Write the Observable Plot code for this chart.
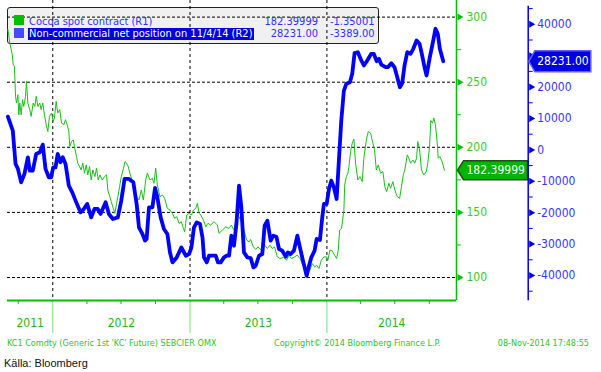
<!DOCTYPE html>
<html><head><meta charset="utf-8">
<script src="https://cdn.jsdelivr.net/npm/d3@7"></script>
<script src="https://cdn.jsdelivr.net/npm/@observablehq/plot@0.6"></script>
<style>
body{margin:0;background:#fff;}
#wrap{position:relative;width:601px;height:372px;overflow:hidden;background:#fff;font-family:"DejaVu Sans Condensed","DejaVu Sans",sans-serif;}
#wrap svg{position:absolute;left:0;top:0;}
.abs{position:absolute;white-space:nowrap;}
#legbox{left:7px;top:7px;width:370px;height:35px;background:#f0f0f0;border:1px solid #222;border-radius:3px;z-index:0;}
.lg{font-size:11px;line-height:12px;height:12px;color:#3030ff;z-index:3;}
.sq{width:10px;height:10px;z-index:3;}
.ft{font-size:9px;line-height:10px;color:#2fbf2f;z-index:3;}
</style></head>
<body>
<div id="wrap">
  <div id="legbox" class="abs"></div>
  <div class="abs sq" style="left:14px;top:15px;background:#00c000"></div>
  <div class="abs lg" id="l1" style="left:29px;top:16px"></div>
  <div class="abs lg" id="l1a" style="left:240px;top:16px;width:78px;text-align:right"></div>
  <div class="abs lg" id="l1b" style="left:330px;top:16px"></div>
  <div class="abs sq" style="left:14px;top:28px;background:#4848ff"></div>
  <div class="abs lg" id="l2" style="left:28px;top:28px;background:#0000e0;color:#fff;padding:0 1px"></div>
  <div class="abs lg" id="l2a" style="left:240px;top:28px;width:78px;text-align:right"></div>
  <div class="abs lg" id="l2b" style="left:330px;top:28px"></div>
  <div class="abs ft" id="f1" style="left:7px;top:338px"></div>
  <div class="abs ft" id="f2" style="left:274px;top:338px"></div>
  <div class="abs ft" id="f3" style="right:12px;top:338px"></div>
  <div class="abs" id="src" style="left:4px;top:357px;font-family:'Liberation Sans Narrow','Liberation Sans',sans-serif;font-size:11px;line-height:13px;color:#111"></div>
</div>
<script>
// ---- data (decimal years) ----
const greenT = [2011.672,2011.686,2011.704,2011.711,2011.720,2011.728,2011.735,2011.745,2011.752,2011.759,
2011.769,2011.779,2011.788,2011.801,2011.808,2011.818,2011.832,2011.842,2011.857,2011.869,
2011.879,2011.891,2011.905,2011.915,2011.927,2011.939,2011.952,2011.964,2011.976,2011.991,
2012.003,2012.012,2012.025,2012.036,2012.051,2012.064,2012.080,2012.093,2012.105,2012.117,
2012.124,2012.137,2012.149,2012.158,2012.173,2012.182,2012.195,2012.207,2012.219,2012.231,
2012.244,2012.255,2012.268,2012.280,2012.292,2012.307,2012.319,2012.331,2012.343,2012.361,
2012.377,2012.392,2012.401,2012.416,2012.426,2012.441,2012.453,2012.465,2012.474,2012.487,
2012.499,2012.514,2012.526,2012.538,2012.550,2012.562,2012.591,2012.611,2012.628,2012.645,
2012.660,2012.677,2012.689,2012.708,2012.726,2012.737,2012.750,2012.762,2012.781,2012.799,
2012.815,2012.835,2012.854,2012.872,2012.888,2012.903,2012.920,2012.937,2012.952,2012.961,
2012.976,2012.993,2013.010,2013.025,2013.042,2013.054,2013.066,2013.078,2013.098,2013.115,
2013.131,2013.151,2013.175,2013.200,2013.212,2013.236,2013.261,2013.285,2013.302,2013.321,
2013.341,2013.358,2013.375,2013.394,2013.414,2013.431,2013.443,2013.463,2013.480,2013.496,
2013.521,2013.545,2013.565,2013.584,2013.601,2013.618,2013.638,2013.657,2013.682,2013.706,
2013.723,2013.740,2013.764,2013.784,2013.803,2013.820,2013.837,2013.857,2013.876,2013.893,
2013.910,2013.925,2013.942,2013.959,2013.978,2013.998,2014.007,2014.022,2014.039,2014.056,
2014.071,2014.083,2014.093,2014.107,2014.124,2014.130,2014.142,2014.153,2014.161,2014.173,
2014.185,2014.197,2014.209,2014.226,2014.241,2014.258,2014.270,2014.288,2014.302,2014.319,
2014.336,2014.348,2014.361,2014.375,2014.392,2014.409,2014.423,2014.436,2014.453,2014.465,
2014.482,2014.496,2014.514,2014.531,2014.545,2014.558,2014.569,2014.587,2014.599,2014.611,
2014.628,2014.642,2014.655,2014.664,2014.677,2014.691,2014.708,2014.726,2014.737,2014.750,
2014.759,2014.772,2014.781,2014.793,2014.806,2014.813,2014.825,2014.842,2014.859];
const greenV = [290.5,280.2,271.2,263.5,262.2,239.1,234,240.4,225,234,
225,236.6,231.4,239.1,250.7,234,228.9,223.7,234,231.4,
239.1,231.4,234,228.9,234,225,217.3,212.1,223.7,226.3,
219.9,222.5,235.3,226.3,228.9,218.6,217.3,221.2,217.3,212.1,
200.6,204.4,205.7,200.6,192.9,187.8,185.2,182.6,187.8,180.1,
186.5,178.8,185.2,174.9,182.6,177.5,183.9,174.9,178.8,174.9,
177.5,178.8,167.2,162.1,158.2,153.1,149.3,157,162.1,169.8,
177.5,183.2,189,187.8,185.2,180.1,169.8,162.1,159.5,167.2,
159.5,174.9,180.1,174.9,176.2,172.4,183.9,171.1,162.1,163.4,
160.8,153.1,151.8,149.3,145.4,146.7,141.6,142.8,137.7,135.1,
148,149.3,148,151.8,153.1,157,149.3,148,144.1,138.9,
141.6,140.3,142.8,140.3,133.9,136.4,138.9,137.7,140.3,136.4,
148,146.7,142.8,136.4,128.7,127.4,129.2,123.5,121.5,123.5,
121,124.8,122.3,124.8,122.3,123.5,115.8,114.6,115.4,113.3,
117.2,114.6,115.8,117.2,114.6,110.7,106.9,103,105.6,110.7,
108.1,109.4,106.9,113.3,115.8,115.8,113.3,121,120.5,117.2,
114.6,121,136.4,137.7,151.8,171.1,177.5,180.1,185.2,196.7,
203.2,206.3,187.8,174.9,177.5,173.6,191.6,205.7,212.1,210.9,
203.2,198,182.6,186.5,180.1,181.3,169.8,165.9,172.4,168.5,
173.6,167.2,162.1,160.8,169.8,178.8,182.6,194.2,191.6,187.8,
190.3,187.8,191.6,204.4,198,182.6,178.8,181.3,187.8,200.6,
220.6,218.6,222.5,217.3,203.2,191.6,192.9,189,182.4];

const blueT = [2011.672,2011.708,2011.728,2011.745,2011.769,2011.793,2011.818,2011.832,2011.854,2011.879,
2011.905,2011.927,2011.947,2011.971,2011.988,2012.003,2012.020,2012.036,2012.056,2012.073,
2012.093,2012.117,2012.142,2012.166,2012.202,2012.226,2012.251,2012.280,2012.304,2012.328,
2012.348,2012.385,2012.409,2012.438,2012.474,2012.499,2012.523,2012.555,2012.587,2012.611,
2012.628,2012.653,2012.672,2012.684,2012.701,2012.726,2012.745,2012.762,2012.786,2012.810,
2012.835,2012.854,2012.872,2012.903,2012.937,2012.969,2012.993,2013.010,2013.029,2013.049,
2013.073,2013.091,2013.102,2013.122,2013.139,2013.164,2013.188,2013.204,2013.224,2013.248,
2013.268,2013.285,2013.302,2013.321,2013.339,2013.358,2013.375,2013.394,2013.419,2013.443,
2013.463,2013.480,2013.504,2013.528,2013.545,2013.565,2013.589,2013.609,2013.631,2013.650,
2013.674,2013.699,2013.715,2013.735,2013.759,2013.784,2013.803,2013.828,2013.852,2013.869,
2013.886,2013.910,2013.925,2013.949,2013.966,2013.978,2013.998,2014.015,2014.032,2014.051,
2014.071,2014.088,2014.105,2014.124,2014.142,2014.168,2014.185,2014.202,2014.226,2014.246,
2014.270,2014.295,2014.324,2014.343,2014.363,2014.380,2014.397,2014.429,2014.445,2014.470,
2014.494,2014.514,2014.533,2014.550,2014.567,2014.587,2014.611,2014.631,2014.655,2014.677,
2014.696,2014.713,2014.728,2014.752,2014.777,2014.793,2014.810,2014.825,2014.850];
const blueV = [10600,6150,-4460,-5960,-10330,-7650,-2360,-6600,-6600,-1280,
-770,1690,-6060,-8730,-8730,-5550,-5550,-1280,-3950,-2360,
-4460,-11380,-13520,-16160,-19890,-18810,-17210,-21490,-18810,-18810,
-20400,-16700,-20400,-22000,-21490,-16160,-9250,-9250,-10330,-17210,
-24670,-26780,-28900,-28370,-18300,-18300,-12100,-15100,-21490,-25200,
-26780,-32650,-35830,-34240,-31050,-33700,-33160,-31050,-24670,-23080,
-23600,-27860,-34240,-35830,-33700,-33700,-33700,-35830,-35830,-34240,
-33700,-33700,-27320,-30510,-23600,-11380,-18300,-32650,-34240,-34430,
-37430,-36890,-33700,-33160,-24130,-22540,-28900,-27320,-27640,-31560,
-32100,-34000,-32650,-33160,-32100,-27320,-31050,-35830,-40070,-36890,
-34240,-32100,-28370,-28700,-21490,-17210,-17210,-12430,-9790,-11920,
-15620,-3000,9340,18900,21040,21550,24230,30800,31110,29010,
26870,28470,30600,30600,28250,29010,27190,26330,26330,27610,
26330,23150,19960,21230,26870,31110,30600,32200,34850,33790,
30060,26330,23690,29520,34850,38570,36980,32200,28231];

const greenTicks = [100, 150, 200, 250, 300];
const greenMinor = [125, 175, 225, 275];
const blueTicks = [-40000, -30000, -20000, -10000, 0, 10000, 20000, 30000, 40000];
const blueLabelTicks = [-40000, -30000, -20000, -10000, 0, 10000, 20000, 40000]; // 30000 sits under the value tag
const blueMinor = [-45000, -35000, -25000, -15000, -5000, 5000, 15000, 25000, 35000, 45000];
const years = [2011, 2012, 2013, 2014];
const quarterTicks = ["2011-10-01","2012-04-01","2012-07-01","2012-10-01","2013-04-01","2013-07-01","2013-10-01","2014-04-01","2014-07-01","2014-10-01"];
const xExtent = [2011.6693, 2014.9467];
const greenName = "Cocoa spot contract (R1)";
const blueName = "Non-commercial net position on 11/4/14 (R2)";
const greenLast = "182.39999", greenChange = "-1.35001";
const blueLast = "28231.00", blueChange = "-3389.00";
const footer = ["KC1 Comdty (Generic 1st 'KC' Future) SEBCIER OMX", "Copyright\u00A9 2014 Bloomberg Finance L.P.", "08-Nov-2014 17:48:55"];
const source = "Källa: Bloomberg";

// ---- helpers ----
function fromDecimal(t) {
  const y = Math.floor(t);
  const a = Date.UTC(y, 0, 1), b = Date.UTC(y + 1, 0, 1);
  return new Date(a + (t - y) * (b - a));
}
const green = greenT.map((t, i) => ({date: fromDecimal(t), value: greenV[i]}));
const blue = blueT.map((t, i) => ({date: fromDecimal(t), value: blueV[i]}));
const xDomain = xExtent.map(fromDecimal);
const yDomain = [82.34, 312.75];
const yearStarts = years.slice(1).map(y => new Date(Date.UTC(y, 0, 1)));
const yearLabels = years.map(y => {
  const a = Math.max(+xDomain[0], Date.UTC(y, 0, 1));
  const b = Math.min(+xDomain[1], Date.UTC(y + 1, 0, 1));
  return {mid: new Date((a + b) / 2), label: String(y)};
});
const qTicks = quarterTicks.map(d => new Date(d + "T00:00:00Z"));
const fmt = d => String(d);
const G = "#00c000", B = "#0000dd";
function arrowSymbol(w, h) {
  return {draw(ctx) {
    ctx.moveTo(0, 0); ctx.lineTo(6, -h / 2); ctx.lineTo(w, -h / 2);
    ctx.lineTo(w, h / 2); ctx.lineTo(6, h / 2); ctx.closePath();
  }};
}
const fontStyle = {background: "transparent", fontFamily: "'DejaVu Sans Condensed','DejaVu Sans',sans-serif", fontSize: "12px", overflow: "visible"};

const plotA = Plot.plot({
  width: 601, height: 340,
  marginTop: 0, marginBottom: 40, marginLeft: 7, marginRight: 145,
  x: {type: "utc", domain: xDomain},
  y: {domain: yDomain},
  style: fontStyle,
  marks: [
    Plot.ruleY(greenTicks, {stroke: "#000", strokeDasharray: "3,2", strokeWidth: 1}),
    Plot.ruleX(yearStarts, {stroke: "#000", strokeDasharray: "3,3", strokeWidth: 1}),
    Plot.axisX({ticks: yearStarts, tickSize: 33, stroke: "#77dd77", fill: "none", label: null}),
    Plot.axisX({ticks: qTicks, tickSize: 4, stroke: G, fill: "none", label: null}),
    Plot.text(yearLabels, {x: "mid", text: "label", frameAnchor: "bottom", dy: 26, fill: "#1cb81c", fontSize: 12}),
    Plot.ruleY([yDomain[0]], {stroke: G, strokeWidth: 2}),
    Plot.ruleX([xDomain[1]], {stroke: G, strokeWidth: 1.5}),
    Plot.line(green, {x: "date", y: "value", stroke: "#18c018", strokeWidth: 1}),
    Plot.axisY({anchor: "right", ticks: greenTicks, tickSize: 0, tickPadding: 10, tickFormat: fmt, fill: "#3cc81c", fontSize: 12, label: null}),
    Plot.axisY({anchor: "right", ticks: greenMinor, tickSize: 4, stroke: G, fill: "none", label: null}),
    Plot.dot(greenTicks, {y: d => d, frameAnchor: "right", symbol: "triangle", r: 2.6, rotate: 90, fill: G, dx: 3}),
    Plot.dot([green[green.length - 1]], {y: "value", frameAnchor: "right", symbol: arrowSymbol(70, 19), fill: "#00b400", stroke: "#1d4d1d", dx: 1}),
    Plot.text([green[green.length - 1]], {y: "value", text: () => greenLast, frameAnchor: "right", dx: 10, textAnchor: "start", fill: "white", fontSize: 12})
  ]
});

const plotB = Plot.plot({
  width: 601, height: 340,
  marginTop: 6, marginBottom: 41, marginLeft: 7, marginRight: 73.3,
  x: {type: "utc", domain: xDomain, range: [7, 456], axis: null},
  y: {domain: [-40000, 40000], range: [275, 23.8]},
  style: fontStyle,
  marks: [
    Plot.frame({anchor: "right", stroke: B, strokeWidth: 1.5}),
    Plot.line(blue, {x: "date", y: "value", stroke: "#0000ff", strokeWidth: 3.8, strokeLinejoin: "round"}),
    Plot.axisY({anchor: "right", ticks: blueLabelTicks, tickSize: 0, tickPadding: 9, tickFormat: fmt, fill: "#3535ff", fontSize: 12, label: null}),
    Plot.axisY({anchor: "right", ticks: blueMinor, tickSize: 4, stroke: B, fill: "none", label: null}),
    Plot.dot(blueTicks, {y: d => d, frameAnchor: "right", symbol: "triangle", r: 2.6, rotate: 90, fill: B, dx: 3}),
    Plot.dot([blue[blue.length - 1]], {y: "value", frameAnchor: "right", symbol: arrowSymbol(62, 21), fill: "#0000e6", stroke: "#6060ff", dx: 0.6}),
    Plot.text([blue[blue.length - 1]], {y: "value", text: () => blueLast, frameAnchor: "right", dx: 9, textAnchor: "start", fill: "white", fontSize: 12})
  ]
});

const wrap = document.getElementById("wrap");
plotA.style.zIndex = 1;
plotB.style.zIndex = 4;
wrap.appendChild(plotA);
wrap.appendChild(plotB);
document.getElementById("l1").textContent = greenName;
document.getElementById("l1a").textContent = greenLast;
document.getElementById("l1b").textContent = greenChange;
document.getElementById("l2").textContent = blueName;
document.getElementById("l2a").textContent = blueLast;
document.getElementById("l2b").textContent = blueChange;
document.getElementById("f1").textContent = footer[0];
document.getElementById("f2").textContent = footer[1];
document.getElementById("f3").textContent = footer[2];
document.getElementById("src").textContent = source;
</script>
</body></html>
